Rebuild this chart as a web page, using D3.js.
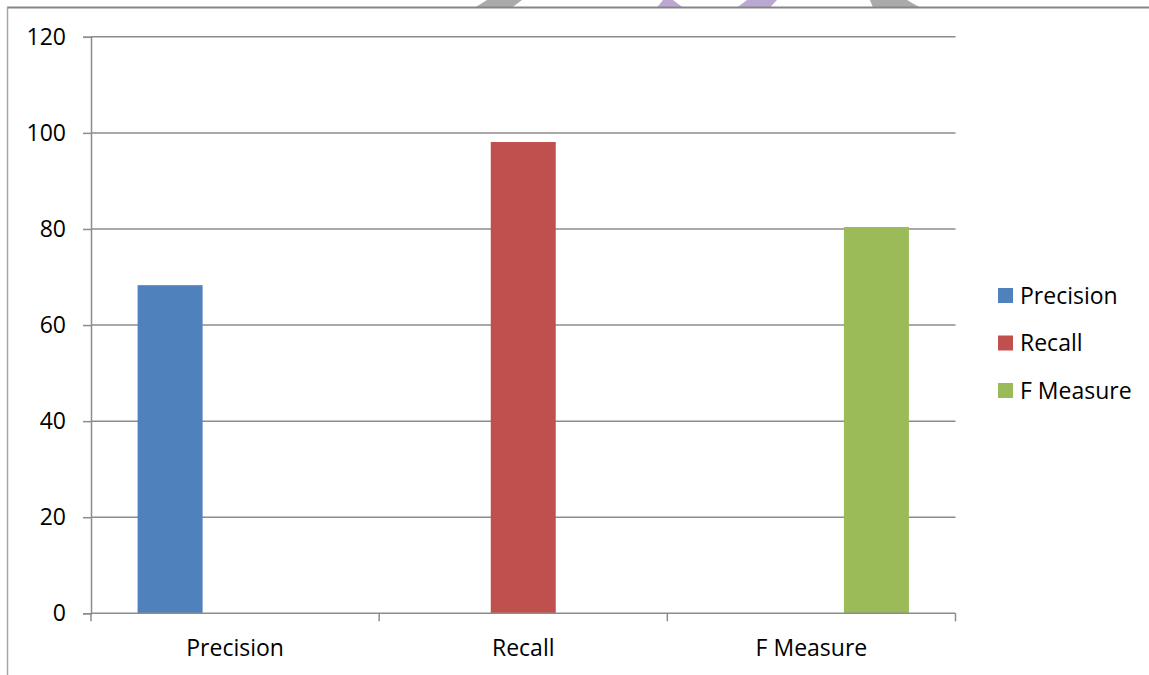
<!DOCTYPE html>
<html>
<head>
<meta charset="utf-8">
<script src="https://cdn.jsdelivr.net/npm/d3@7"></script>
<style>
  html, body { margin: 0; padding: 0; background: #fff; }
  svg { display: block; }
  text { font-family: "Open Sans", sans-serif; fill: #000; }
</style>
</head>
<body>
<svg id="chart" width="1149" height="675"></svg>
<script>
// ---- data ----
const categories = ["Precision", "Recall", "F Measure"];
const seriesNames = ["Precision", "Recall", "F Measure"];
const precisionValues = [68.3, 0, 0];
const recallValues = [0, 98.1, 0];
const fMeasureValues = [0, 0, 80.4];
const yTicks = [0, 20, 40, 60, 80, 100, 120];
const seriesColors = ["#4F81BD", "#C0504D", "#9BBB59"];

const seriesValues = [precisionValues, recallValues, fMeasureValues];

const svg = d3.select("#chart");
const W = 1149, H = 675;

// watermark fragments above frame
const wm = svg.append("g");
wm.append("polygon").attr("points", "487,0 522,0 512,7.5 475,7.5").attr("fill", "#aaaaaa");
wm.append("polygon").attr("points", "663,0 673,0 683,7.5 657,7.5").attr("fill", "#bba8d2");
wm.append("polygon").attr("points", "747,0 777,0 770,7.5 737,7.5").attr("fill", "#bba8d2");
wm.append("polygon").attr("points", "870,0 907,0 920,7.5 873,7.5").attr("fill", "#aaaaaa");

// outer frame
svg.append("line").attr("x1", 7).attr("x2", W).attr("y1", 7.5).attr("y2", 7.5)
  .attr("stroke", "#858585").attr("stroke-width", 2);
svg.append("line").attr("x1", 7.5).attr("x2", 7.5).attr("y1", 7).attr("y2", H)
  .attr("stroke", "#a6a6a6").attr("stroke-width", 1.5);

const plotLeft = 91, plotRight = 955.5, plotTop = 36.8, plotBottom = 613.3;

const y = d3.scaleLinear().domain([0, 120]).range([plotBottom, plotTop]);
const x0 = d3.scaleBand().domain(categories).range([plotLeft, plotRight]).paddingInner(0).paddingOuter(0);
const x1 = d3.scaleBand().domain(seriesNames).range([0, x0.bandwidth()]).paddingInner(0).paddingOuter(0.717);

const gridColor = "#8c8c8c";

// gridlines
svg.append("g").selectAll("line").data(yTicks.filter(d => d > 0)).join("line")
  .attr("x1", plotLeft).attr("x2", plotRight)
  .attr("y1", d => y(d)).attr("y2", d => y(d))
  .attr("stroke", gridColor).attr("stroke-width", 1.5);

// bars
const barG = svg.append("g");
seriesValues.forEach((vals, si) => {
  barG.selectAll(null).data(categories.map((c, ci) => ({ c, v: vals[ci] })).filter(d => d.v > 0))
    .join("rect")
    .attr("x", d => x0(d.c) + x1(seriesNames[si]))
    .attr("width", x1.bandwidth())
    .attr("y", d => y(d.v))
    .attr("height", d => y(0) - y(d.v))
    .attr("fill", seriesColors[si]);
});

// y axis
const yAxis = d3.axisLeft(y).tickValues(yTicks).tickSize(8).tickPadding(17);
const yG = svg.append("g").attr("transform", `translate(${plotLeft},0)`).call(yAxis);
yG.select(".domain").attr("stroke", gridColor).attr("stroke-width", 1.5);
yG.selectAll(".tick line").attr("stroke", gridColor).attr("stroke-width", 1.5);
yG.selectAll(".tick text").attr("font-family", "Open Sans").attr("font-size", 23).attr("fill", "#000");

// x axis
const xAxis = d3.axisBottom(x0).tickSize(0).tickPadding(26);
const xG = svg.append("g").attr("transform", `translate(0,${plotBottom})`).call(xAxis);
xG.select(".domain").remove();
xG.append("line").attr("x1", plotLeft).attr("x2", plotRight).attr("y1", 0).attr("y2", 0)
  .attr("stroke", gridColor).attr("stroke-width", 1.5);
const boundaries = categories.map(c => x0(c)).concat([x0(categories[categories.length - 1]) + x0.bandwidth()]);
xG.selectAll(".bnd").data(boundaries).join("line").attr("class", "bnd")
  .attr("x1", d => d).attr("x2", d => d).attr("y1", 0).attr("y2", 8)
  .attr("stroke", gridColor).attr("stroke-width", 1.5);
xG.selectAll(".tick text").attr("font-family", "Open Sans").attr("font-size", 23).attr("fill", "#000");

// legend
const lg = svg.append("g").attr("transform", "translate(998,295.5)");
seriesNames.forEach((s, i) => {
  const row = lg.append("g").attr("transform", `translate(0,${i * 47.5})`);
  row.append("rect").attr("x", 0).attr("y", -7.5).attr("width", 15).attr("height", 15).attr("fill", seriesColors[i]);
  row.append("text").attr("x", 22).attr("y", 0).attr("dy", "0.35em").attr("font-size", 23).text(s);
});
</script>
</body>
</html>
